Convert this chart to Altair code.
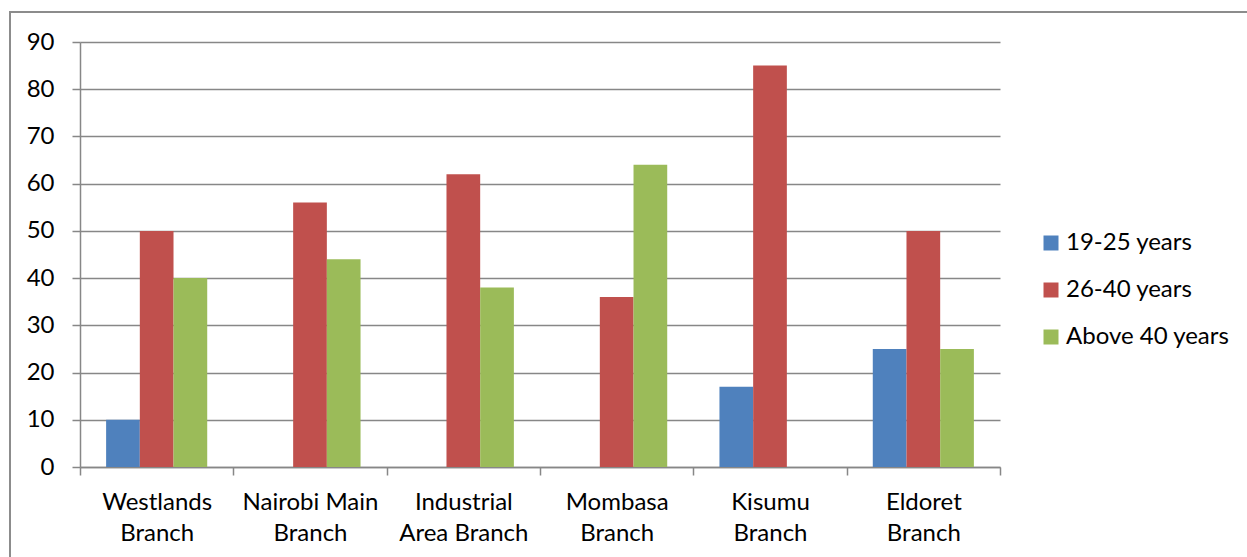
import altair as alt
import pandas as pd

# Branches (two-line labels split on "\n") and age groups
branches = [
    "Westlands\nBranch",
    "Nairobi Main\nBranch",
    "Industrial\nArea Branch",
    "Mombasa\nBranch",
    "Kisumu\nBranch",
    "Eldoret\nBranch",
]
age_groups = ["19-25 years", "26-40 years", "Above 40 years"]

# Respondents per branch for each age group
age_19_25 = [10, 0, 0, 0, 17, 25]
age_26_40 = [50, 56, 62, 36, 85, 50]
age_above_40 = [40, 44, 38, 64, 0, 25]

colors = ["#4F81BD", "#C0504D", "#9BBB59"]
y_ticks = [0, 10, 20, 30, 40, 50, 60, 70, 80, 90]

rows = []
for series_name, values in zip(age_groups, [age_19_25, age_26_40, age_above_40]):
    for branch, v in zip(branches, values):
        rows.append({"branch": branch, "group": series_name, "count": v})
df = pd.DataFrame(rows)

FONT = "Lato"
FS = 24
GRID = "#878787"

bars = alt.Chart(df).mark_bar().encode(
    x=alt.X(
        "branch:N",
        sort=branches,
        scale=alt.Scale(paddingInner=0, paddingOuter=0),
        axis=alt.Axis(
            title=None,
            labelAngle=0,
            labelExpr="split(datum.label, '\\n')",
            labelLineHeight=31,
            labelFontSize=FS,
            labelFont=FONT,
            labelColor="#000000",
            labelPadding=15,
            labelLimit=300,
            tickBand="extent",
            tickSize=8,
            tickColor=GRID,
            tickWidth=1.5,
            domainColor=GRID,
            domainWidth=1.5,
            grid=False,
        ),
    ),
    xOffset=alt.XOffset(
        "group:N",
        sort=age_groups,
        scale=alt.Scale(paddingInner=0, paddingOuter=0.775),
    ),
    y=alt.Y(
        "count:Q",
        scale=alt.Scale(domain=[0, 90], nice=False),
        axis=alt.Axis(
            title=None,
            values=y_ticks,
            labelFontSize=FS,
            labelFont=FONT,
            labelColor="#000000",
            labelPadding=18,
            tickSize=8,
            tickColor=GRID,
            tickWidth=1.5,
            domainColor=GRID,
            domainWidth=1.5,
            gridColor=GRID,
            gridWidth=1.5,
        ),
    ),
    color=alt.Color(
        "group:N",
        sort=age_groups,
        scale=alt.Scale(domain=age_groups, range=colors),
        legend=alt.Legend(
            title=None,
            orient="none",
            legendX=959,
            legendY=189,
            symbolType="square",
            symbolSize=225,
            symbolStrokeWidth=0,
            labelFontSize=FS,
            labelFont=FONT,
            labelColor="#000000",
            labelOffset=3,
            labelLimit=300,
            rowPadding=23,
        ),
    ),
)

# Thin frame around the whole chart area
frame = alt.Chart(pd.DataFrame({"k": [0]})).mark_rect(
    fill=None, stroke="#8c8c8c", strokeWidth=2
).encode(
    x=alt.value(-70), x2=alt.value(1300), y=alt.value(-30), y2=alt.value(700)
)

chart = (
    alt.layer(frame, bars)
    .properties(
        width=920,
        height=425,
        autosize=alt.AutoSizeParams(type="none"),
        padding={"left": 80, "top": 42, "right": 247, "bottom": 90},
        background="white",
    )
    .configure_view(stroke=None)
)

chart.save("out.html", embed_options={"renderer": "svg", "actions": False})
